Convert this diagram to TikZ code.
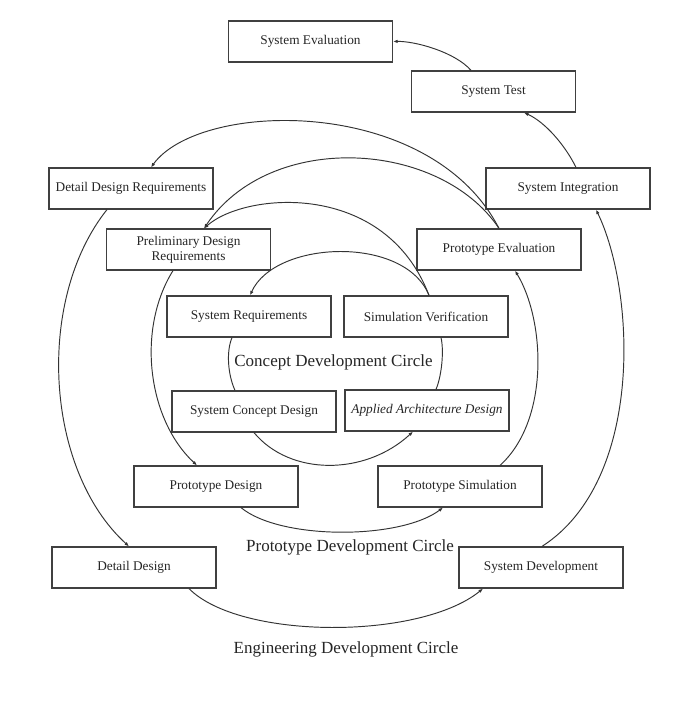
\documentclass[tikz,border=0pt]{standalone}
\usepackage{fontspec}
\setmainfont{Liberation Serif}
\usetikzlibrary{arrows.meta}
\begin{document}
\begin{tikzpicture}[x=1pt,y=-1pt,
  box/.style={draw=black!75, line width=1.2pt, minimum width=164pt, minimum height=41pt,
    inner sep=0pt, text=black!85, font=\fontsize{13.3}{15}\selectfont, align=center},
  lbl/.style={text=black!85, font=\fontsize{17}{20}\selectfont, inner sep=0pt},
  con/.style={draw=black!80, line width=0.95pt},
  arr/.style={con, -{Latex[length=4.5pt,width=3.5pt]}}]
\useasboundingbox (0,0) rectangle (694,708);
\fill[white] (0,0) rectangle (694,708);

% boxes
\node[box] (SE)  at (310.5,41.5)  {System Evaluation};
\node[box] (ST)  at (493.5,91.5)  {System Test};
\node[box] (DDR) at (131,188.5)   {Detail Design Requirements};
\node[box] (SI)  at (568,188.5)   {System Integration};
\node[box] (PDR) at (188.5,249.5) {Preliminary Design\\Requirements};
\node[box] (PE)  at (499,249.5)   {Prototype Evaluation};
\node[box] (SR)  at (249,316.5)   {System Requirements};
\node[box] (SV)  at (426,316.5)   {Simulation Verification};
\node[box] (SCD) at (254,411.5)   {System Concept Design};
\node[box] (AAD) at (427,410.5)   {\itshape Applied Architecture Design};
\node[box] (PD)  at (216,486.5)   {Prototype Design};
\node[box] (PS)  at (460,486.5)   {Prototype Simulation};
\node[box] (DD)  at (134,567.5)   {Detail Design};
\node[box] (SD)  at (541,567.5)   {System Development};

% circle labels
\node[lbl] (lc) at (333.5,362) {Concept Development Circle};
\node[lbl] (lp) at (350,547)   {Prototype Development Circle};
\node[lbl] (le) at (346,649)   {Engineering Development Circle};

% concept circle
\draw[arr] ([xshift=3pt]SV.north) .. controls (405,235) and (275,240) .. ([xshift=1pt]SR.north);
\draw[con] ([xshift=-17pt]SR.south) .. controls (226,352) and (228,375) .. ([xshift=-19pt]SCD.north);
\draw[arr] (SCD.south) .. controls (290,476) and (365,476) .. ([xshift=-14pt]AAD.south);
\draw[con] ([xshift=9pt]AAD.north) .. controls (442,375) and (444,350) .. ([xshift=15pt]SV.south);

% concept -> prototype
\draw[arr] ([xshift=3pt]SV.north) .. controls (385,180) and (245,192) .. ([xshift=15.5pt]PDR.north);

% prototype circle
\draw[arr] (PE.north) .. controls (440,140) and (270,130) .. ([xshift=15.5pt]PDR.north);
\draw[arr] ([xshift=-15.5pt]PDR.south) .. controls (136,330) and (148,420) .. ([xshift=-19pt]PD.north);
\draw[arr] ([xshift=25pt]PD.south) .. controls (280,540) and (400,540) .. ([xshift=-17pt]PS.south);
\draw[arr] ([xshift=40pt]PS.north) .. controls (550,420) and (545,320) .. ([xshift=16pt]PE.south);

% prototype -> engineering
\draw[arr] (PE.north) .. controls (430,95) and (200,100) .. ([xshift=20pt]DDR.north);

% engineering circle
\draw[arr] ([xshift=-24pt]DDR.south) .. controls (35,300) and (45,470) .. ([xshift=-5pt]DD.north);
\draw[arr] ([xshift=55pt]DD.south) .. controls (240,640) and (420,640) .. ([xshift=-58pt]SD.south);
\draw[arr] ([xshift=1pt]SD.north) .. controls (645,480) and (635,290) .. ([xshift=28pt]SI.south);
\draw[arr] ([xshift=8pt]SI.north) .. controls (565,145) and (545,122) .. ([xshift=30.5pt]ST.south);
\draw[arr] ([xshift=-22.5pt]ST.north) .. controls (455,52) and (415,41) .. (SE.east);
\end{tikzpicture}
\end{document}
